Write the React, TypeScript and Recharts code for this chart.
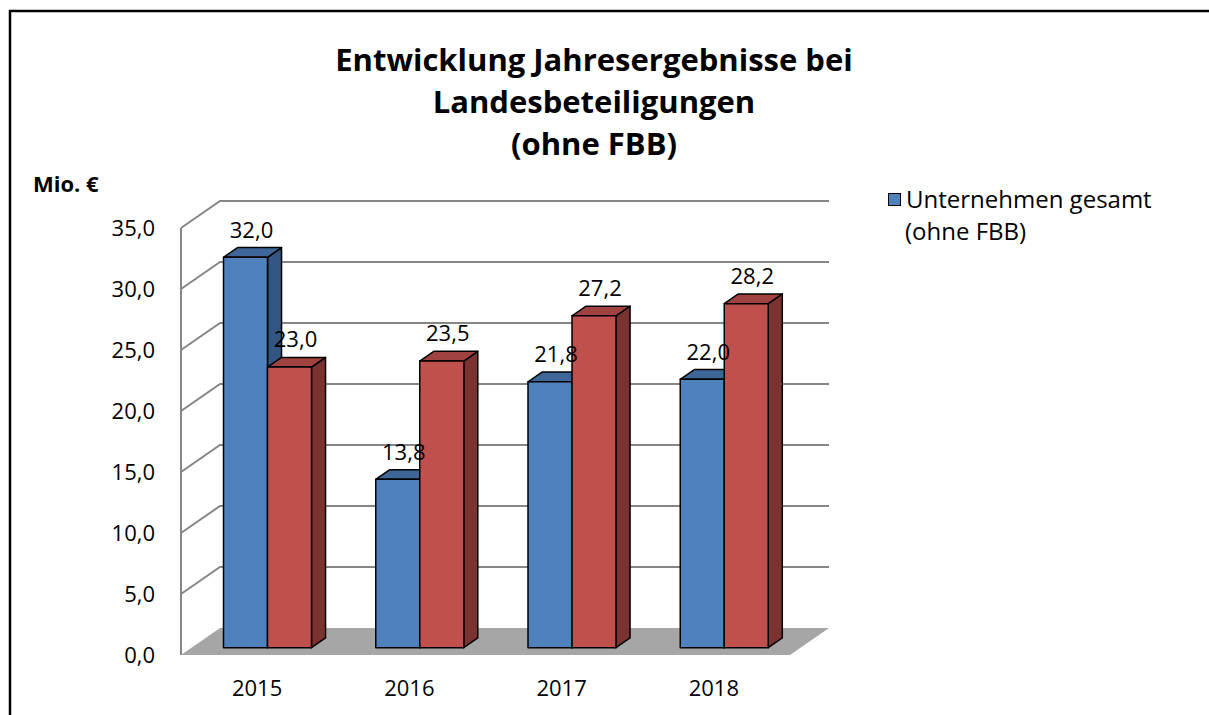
import { BarChart, Bar, XAxis, YAxis, CartesianGrid, LabelList } from "recharts";

const years = ["2015", "2016", "2017", "2018"];
const gesamt = [32.0, 13.8, 21.8, 22.0];
const vergleich = [23.0, 23.5, 27.2, 28.2];
const yTicks = [0, 5, 10, 15, 20, 25, 30, 35];

const titleLines = ["Entwicklung Jahresergebnisse bei", "Landesbeteiligungen", "(ohne FBB)"];
const unitLabel = "Mio. €";
const legendLines = ["Unternehmen gesamt", "(ohne FBB)"];

const data = years.map((year, i) => ({ year, gesamt: gesamt[i], vergleich: vergleich[i] }));

// 3D look: how far the back wall sits behind the front plane
const DEPTH_X = 39;
const DEPTH_Y = 27;
const BAR_FRONT = 0.27;
const BAR_BACK = 0.63;
const FONT = "'Open Sans', Lato, sans-serif";

if (typeof document !== "undefined") document.body.style.margin = "0";

const fmt = (v: number) => v.toFixed(1).replace(".", ",");

const blue = { front: "#4f81bd", top: "#3f6699", side: "#34557f" };
const red = { front: "#c0504d", top: "#a0423f", side: "#7b3331" };

const bar3d = (c: { front: string; top: string; side: string }) => (props: any) => {
  const { x, y, width, height } = props;
  if (!height || height <= 0) return <g />;
  const fx = x + DEPTH_X * BAR_FRONT;
  const fy = y - DEPTH_Y * BAR_FRONT;
  const dx = DEPTH_X * (BAR_BACK - BAR_FRONT);
  const dy = DEPTH_Y * (BAR_BACK - BAR_FRONT);
  const r = fx + width;
  const b = fy + height;
  return (
    <g stroke="#000" strokeWidth={1.5} strokeLinejoin="round">
      <polygon points={`${r},${fy} ${r + dx},${fy - dy} ${r + dx},${b - dy} ${r},${b}`} fill={c.side} />
      <polygon points={`${fx},${fy} ${fx + dx},${fy - dy} ${r + dx},${fy - dy} ${r},${fy}`} fill={c.top} />
      <rect x={fx} y={fy} width={width} height={height} fill={c.front} />
    </g>
  );
};

const gridLine = (p: any) => {
  const { x1, y1, x2, y, height } = p;
  const bx = x1 + DEPTH_X;
  const by = y1 - DEPTH_Y;
  if (Math.abs(y1 - (y + height)) < 0.5) {
    return (
      <polygon
        key={`floor-${y1}`}
        points={`${x1},${y1} ${bx},${by} ${x2 + DEPTH_X},${by} ${x2},${y1}`}
        fill="#a6a6a6"
      />
    );
  }
  return (
    <polyline
      key={`grid-${y1}`}
      points={`${x1},${y1} ${bx},${by} ${x2 + DEPTH_X},${by}`}
      fill="none"
      stroke="#868686"
      strokeWidth={2}
    />
  );
};

const valueLabel = (props: any) => {
  const { x, y, width, value } = props;
  return (
    <text
      x={x + width / 2 + DEPTH_X * BAR_FRONT + 6}
      y={y - 36}
      textAnchor="middle"
      dominantBaseline="central"
      fontSize={22}
      fontFamily={FONT}
      fill="#000"
    >
      {fmt(value)}
    </text>
  );
};

export default function App() {
  return (
    <div style={{ position: "relative", width: 1209, height: 715, overflow: "hidden", background: "#fff", fontFamily: FONT }}>
      <div style={{ position: "absolute", left: 34, top: 38, width: 1120, textAlign: "center", fontWeight: 700, fontSize: 31, lineHeight: "42px" }}>
        {titleLines.map((t) => (
          <div key={t}>{t}</div>
        ))}
      </div>
      <div style={{ position: "absolute", left: 33, top: 168, fontWeight: 700, fontSize: 22 }}>{unitLabel}</div>
      <div style={{ position: "absolute", left: 888, top: 183, fontSize: 24, lineHeight: "32px" }}>
        <div style={{ display: "flex", alignItems: "center" }}>
          <span style={{ width: 11, height: 11, background: blue.front, border: "1px solid #000", marginRight: 5 }} />
          <span>{legendLines[0]}</span>
        </div>
        <div style={{ paddingLeft: 17 }}>{legendLines[1]}</div>
      </div>
      <div style={{ position: "absolute", left: 0, top: 0 }}>
        <BarChart
          width={1209}
          height={715}
          data={data}
          margin={{ top: 228, right: 419, left: 0, bottom: 0 }}
          barGap={0}
          barCategoryGap="21%"
        >
          <CartesianGrid vertical={false} horizontal={gridLine} />
          <XAxis
            dataKey="year"
            axisLine={false}
            tickLine={false}
            tickSize={0}
            tickMargin={25}
            height={60}
            tick={{ fontSize: 22, fill: "#000", fontFamily: FONT }}
          />
          <YAxis
            domain={[0, 35]}
            ticks={yTicks}
            width={181}
            tickFormatter={fmt}
            tickLine={false}
            tickSize={0}
            tickMargin={26}
            axisLine={{ stroke: "#868686", strokeWidth: 2 }}
            tick={{ fontSize: 22, fill: "#000", fontFamily: FONT }}
          />
          <Bar dataKey="gesamt" name="Unternehmen gesamt (ohne FBB)" shape={bar3d(blue)} isAnimationActive={false}>
            <LabelList dataKey="gesamt" content={valueLabel} />
          </Bar>
          <Bar dataKey="vergleich" name="Vergleich" shape={bar3d(red)} isAnimationActive={false}>
            <LabelList dataKey="vergleich" content={valueLabel} />
          </Bar>
        </BarChart>
      </div>
      <svg width={1209} height={715} style={{ position: "absolute", left: 0, top: 0, zIndex: 5, pointerEvents: "none" }}>
        <polyline points="10,715 10,11 1209,11" fill="none" stroke="#000" strokeWidth={2.5} />
      </svg>
    </div>
  );
}
